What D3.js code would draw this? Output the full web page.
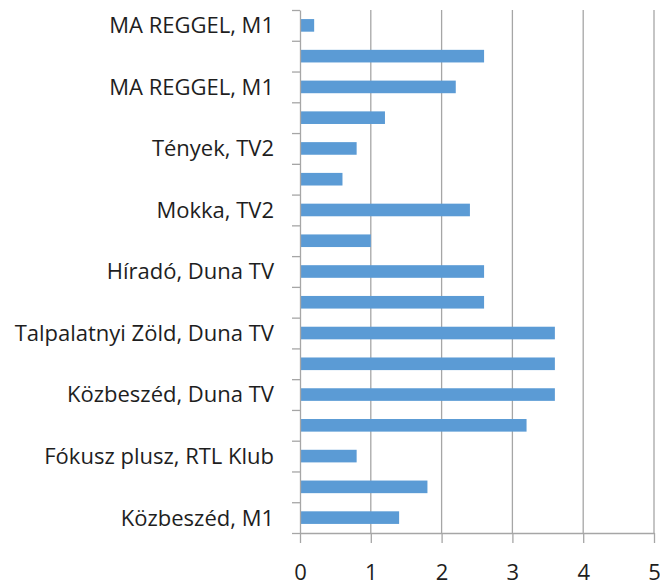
<!DOCTYPE html>
<html>
<head>
<meta charset="utf-8">
<script src="https://cdn.jsdelivr.net/npm/d3@7/dist/d3.min.js"></script>
<style>
  html, body { margin: 0; padding: 0; background: #fff; }
  svg { display: block; }
</style>
</head>
<body>
<svg id="chart" width="660" height="587"></svg>
<script>
// Category labels (every other label is hidden in the original chart)
const labels = [
  "MA REGGEL, M1", "", "MA REGGEL, M1", "", "Tények, TV2", "", "Mokka, TV2", "",
  "Híradó, Duna TV", "", "Talpalatnyi Zöld, Duna TV", "", "Közbeszéd, Duna TV", "",
  "Fókusz plusz, RTL Klub", "", "Közbeszéd, M1"
];
const values = [0.2, 2.6, 2.2, 1.2, 0.8, 0.6, 2.4, 1.0, 2.6, 2.6, 3.6, 3.6, 3.6, 3.2, 0.8, 1.8, 1.4];
const xTicks = [0, 1, 2, 3, 4, 5];

(function () {
const svg = d3.select("#chart");
const mLeft = 300, mRight = 654, mTop = 10, mBottom = 533;
const font = "'Open Sans', 'Liberation Sans', sans-serif";
const gridColor = "#a6a6a6";

const x = d3.scaleLinear().domain([0, 5]).range([mLeft, mRight]);
const idx = d3.range(values.length);
const y = d3.scaleBand().domain(idx).range([mTop, mBottom]).paddingInner(0.59).paddingOuter(0.295);
const yEdge = d3.scaleLinear().domain([0, values.length]).range([mTop, mBottom]);

// vertical gridlines
svg.append("g").selectAll("line").data(xTicks.slice(1)).join("line")
  .attr("x1", d => x(d)).attr("x2", d => x(d))
  .attr("y1", mTop).attr("y2", mBottom)
  .attr("stroke", gridColor).attr("stroke-width", 1.3);

// bars
svg.append("g").selectAll("rect").data(values).join("rect")
  .attr("x", x(0))
  .attr("y", (d, i) => y(i))
  .attr("width", d => x(d) - x(0))
  .attr("height", y.bandwidth())
  .attr("fill", "#5b9bd5");

// left axis (category boundary ticks)
const gy = svg.append("g").attr("transform", `translate(${mLeft},0)`)
  .call(d3.axisLeft(yEdge).tickValues(d3.range(values.length + 1)).tickFormat("").tickSize(8).tickSizeOuter(0));
gy.select(".domain").attr("stroke", gridColor).attr("stroke-width", 1.3);
gy.selectAll(".tick line").attr("stroke", gridColor).attr("stroke-width", 1.3);

// category labels
svg.append("g").selectAll("text").data(labels).join("text")
  .attr("x", 274)
  .attr("y", (d, i) => y(i) + y.bandwidth() / 2)
  .attr("dy", "0.36em")
  .attr("text-anchor", "end")
  .attr("font-family", font)
  .attr("font-size", 22)
  .attr("fill", "#1e1e1e")
  .text(d => d);

// bottom axis
const gx = svg.append("g").attr("transform", `translate(0,${mBottom})`)
  .call(d3.axisBottom(x).tickValues(xTicks).tickFormat(d3.format("d")).tickSize(10).tickSizeOuter(0));
gx.select(".domain").attr("stroke", gridColor).attr("stroke-width", 1.3);
gx.selectAll(".tick line").attr("stroke", gridColor).attr("stroke-width", 1.3);
gx.selectAll(".tick text")
  .attr("y", 47).attr("dy", 0)
  .attr("font-family", font).attr("font-size", 22).attr("fill", "#1e1e1e");
})();
</script>
</body>
</html>
